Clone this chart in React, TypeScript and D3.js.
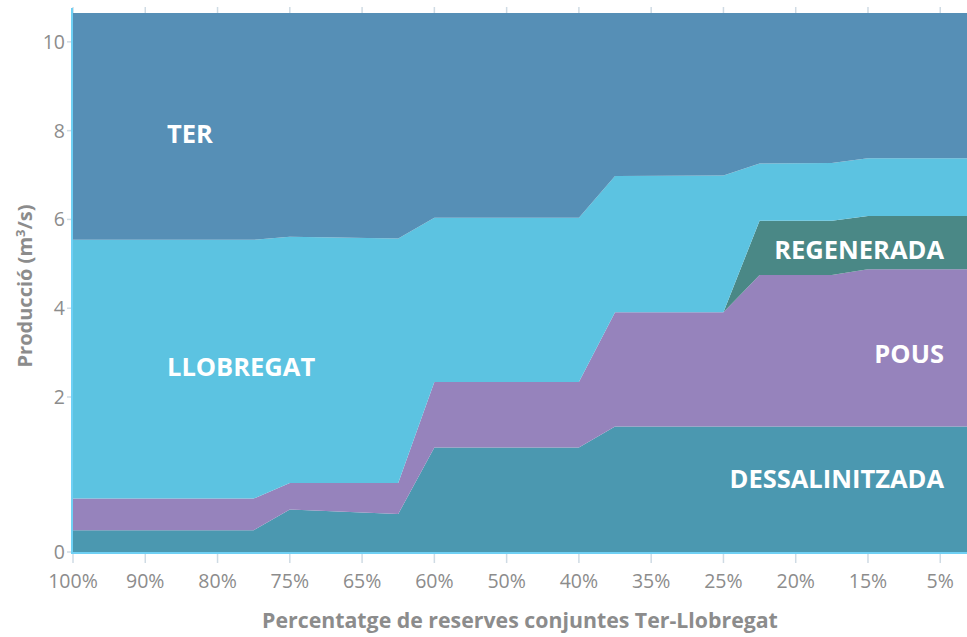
import React from 'react';
import * as d3 from 'd3';

// tick labels on the x axis (reserve level)
const reserveLabels = ['100%', '90%', '80%', '75%', '65%', '60%', '50%', '40%', '35%', '25%', '20%', '15%', '5%'];
// positions of the data points, in tick-index units
const stepPos = [0, 2.5, 3, 4.5, 5, 7, 7.5, 9, 9.5, 10.5, 11, 12.37];

// production per source (m3/s)
const dessalinitzada = [0.28, 0.28, 0.55, 0.49, 1.35, 1.35, 1.62, 1.62, 1.62, 1.62, 1.62, 1.62];
const pous = [0.41, 0.41, 0.34, 0.40, 0.99, 0.99, 2.29, 2.29, 3.13, 3.13, 3.26, 3.26];
const regenerada = [0, 0, 0, 0, 0, 0, 0, 0, 1.22, 1.22, 1.2, 1.2];
const llobregat = [4.85, 4.85, 4.72, 4.68, 3.70, 3.70, 3.07, 3.08, 1.29, 1.30, 1.30, 1.30];
const ter = [5.11, 5.11, 5.04, 5.08, 4.61, 4.61, 3.67, 3.66, 3.39, 3.38, 3.27, 3.27];

const yTicks = [0, 2, 4, 6, 8, 10];

const keys = ['dessalinitzada', 'pous', 'regenerada', 'llobregat', 'ter'];
const colors: Record<string, string> = {
  dessalinitzada: '#4b98b0',
  pous: '#9683bc',
  regenerada: '#4a8886',
  llobregat: '#5cc3e1',
  ter: '#568fb6',
};

const W = 967, H = 637;
const margin = { top: 13, right: 0, bottom: 85, left: 73 };
const font = "'Open Sans', Roboto, sans-serif";

export default function App() {
  const rows = stepPos.map((p, i) => ({
    pos: p,
    dessalinitzada: dessalinitzada[i],
    pous: pous[i],
    regenerada: regenerada[i],
    llobregat: llobregat[i],
    ter: ter[i],
  }));

  const x = d3.scaleLinear().domain([0, 12.37]).range([margin.left, W - margin.right]);
  // the axis is stretched below 2
  const y = d3.scaleLinear().domain([0, 2, 10.65]).range([H - margin.bottom, 397, margin.top]);

  const series = d3.stack<any>().keys(keys)(rows);
  const area = d3.area<any>()
    .x((d) => x(d.data.pos))
    .y0((d) => y(d[0]))
    .y1((d) => y(d[1]));

  const bottom = H - margin.bottom;

  const labels = [
    { text: 'TER', x: 167, y: 143, anchor: 'start' },
    { text: 'LLOBREGAT', x: 167, y: 376, anchor: 'start' },
    { text: 'REGENERADA', x: 944, y: 259, anchor: 'end' },
    { text: 'POUS', x: 944, y: 363, anchor: 'end' },
    { text: 'DESSALINITZADA', x: 944, y: 488, anchor: 'end' },
  ];

  return (
    <svg width={W} height={H} style={{ position: 'absolute', left: 0, top: 0 }} fontFamily={font}>
      {series.map((s) => (
        <path key={s.key} d={area(s) || ''} fill={colors[s.key]} />
      ))}

      {/* top ticks */}
      {reserveLabels.map((l, i) => (
        <line key={'t' + l} x1={x(i)} x2={x(i)} y1={7} y2={margin.top} stroke="#cfdbe4" strokeWidth={1.5} />
      ))}

      {/* bottom axis */}
      <line x1={margin.left - 1} x2={W} y1={bottom + 1} y2={bottom + 1} stroke="#6fd0f4" strokeWidth={2} />
      {reserveLabels.map((l, i) => (
        <g key={l}>
          <line x1={x(i)} x2={x(i)} y1={bottom + 2} y2={bottom + 11} stroke="#cfdbe4" strokeWidth={1.5} />
          <text x={x(i)} y={588} textAnchor="middle" fontSize={19.5} fill="#8c8c8c">{l}</text>
        </g>
      ))}

      {/* left axis */}
      <line x1={margin.left - 1} x2={margin.left - 1} y1={8} y2={bottom + 2} stroke="#6fd0f4" strokeWidth={2} />
      {yTicks.map((t) => (
        <g key={t}>
          <line x1={margin.left - 6} x2={margin.left - 2} y1={y(t)} y2={y(t)} stroke="#cfdbe4" strokeWidth={1.5} />
          <text x={margin.left - 8} y={y(t)} dy="0.36em" textAnchor="end" fontSize={19.5} fill="#8c8c8c">{t}</text>
        </g>
      ))}

      {/* area labels */}
      {labels.map((l) => (
        <text key={l.text} x={l.x} y={l.y} textAnchor={l.anchor} fontSize={25.5} fontWeight="bold" fill="#fff">{l.text}</text>
      ))}

      {/* axis titles */}
      <text x={520} y={628} textAnchor="middle" fontSize={21.3} fontWeight="bold" fill="#8c8c8c">
        Percentatge de reserves conjuntes Ter-Llobregat
      </text>
      <text transform="translate(32,286) rotate(-90)" textAnchor="middle" fontSize={20} fontWeight="bold" fill="#8c8c8c">
        Producció (m<tspan dy={-7} fontSize={13}>3</tspan><tspan dy={7}>/s)</tspan>
      </text>
    </svg>
  );
}
